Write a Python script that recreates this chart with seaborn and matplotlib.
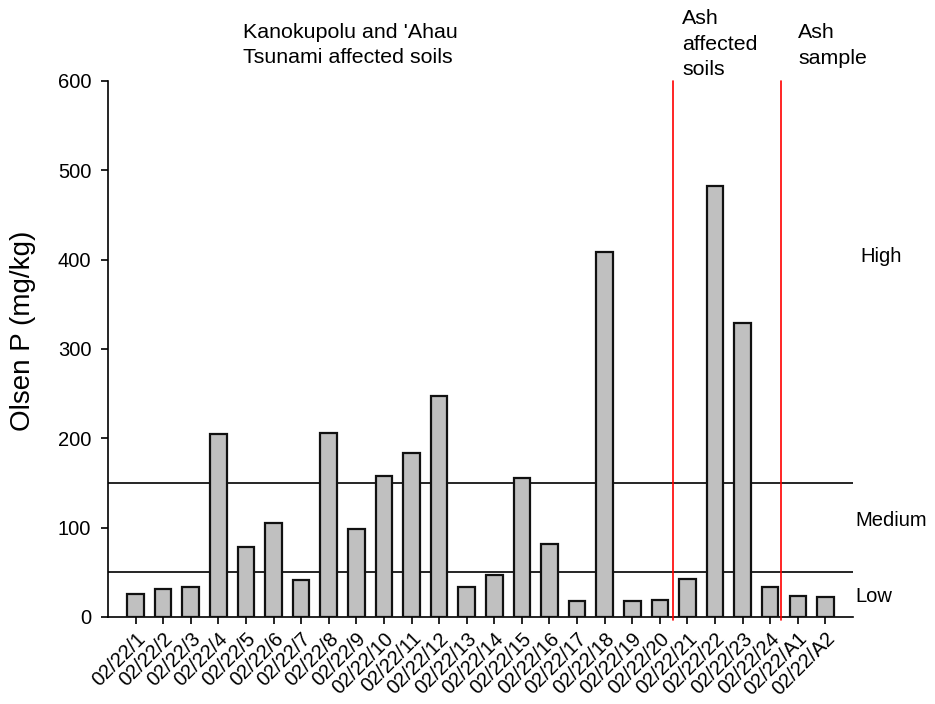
import matplotlib
matplotlib.use("Agg")
import matplotlib.pyplot as plt
import seaborn as sns
import pandas as pd

# Sample IDs and Olsen P results (mg/kg)
samples = [
    "02/22/1", "02/22/2", "02/22/3", "02/22/4", "02/22/5", "02/22/6",
    "02/22/7", "02/22/8", "02/22/9", "02/22/10", "02/22/11", "02/22/12",
    "02/22/13", "02/22/14", "02/22/15", "02/22/16", "02/22/17", "02/22/18",
    "02/22/19", "02/22/20", "02/22/21", "02/22/22", "02/22/23", "02/22/24",
    "02/22/A1", "02/22/A2",
]
olsen_p = [
    26, 31, 34, 205, 78, 105,
    41, 206, 99, 158, 183, 247,
    34, 47, 156, 82, 18, 408,
    18, 19, 43, 482, 329, 34,
    23, 22,
]

# Fertility class boundaries and group dividers
class_limits = [50, 150]
class_names = ["Low", "Medium", "High"]
group_dividers = [19.48, 23.38]

sns.set_theme(style="ticks")
plt.rcParams["font.family"] = ["Liberation Sans", "DejaVu Sans"]
plt.rcParams.update({
    "text.color": "black",
    "axes.labelcolor": "black",
    "xtick.color": "black",
    "ytick.color": "black",
})

df = pd.DataFrame({"sample": samples, "olsen_p": olsen_p})

fig = plt.figure(figsize=(9.35, 7.04), dpi=100)
ax = fig.add_axes([0.1155, 0.1236, 0.7968, 0.7614])

sns.barplot(data=df, x="sample", y="olsen_p", color="#c0c0c0", saturation=1,
            edgecolor="#111111", linewidth=1.6, width=0.6, ax=ax, zorder=3)

for lim in class_limits:
    ax.axhline(lim, color="black", linewidth=1.2, zorder=1)

for xd in group_dividers:
    ax.plot([xd, xd], [-3, 600], color="red", linewidth=1.2, zorder=4,
            clip_on=False)

ax.set_xlim(-1, 26)
ax.set_ylim(0, 600)
ax.set_yticks(range(0, 601, 100))
ax.set_xlabel("")
ax.set_ylabel("Olsen P (mg/kg)", fontsize=20)
ax.yaxis.set_label_coords(-0.096, 0.534)
ax.tick_params(axis="both", labelsize=14.5, length=5, width=1.2,
               color="black", labelcolor="black")
ax.tick_params(axis="y", pad=7)
for lbl in ax.get_xticklabels():
    lbl.set_rotation(45)
    lbl.set_ha("right")
    lbl.set_rotation_mode("anchor")

sns.despine(ax=ax)
for sp in ("left", "bottom"):
    ax.spines[sp].set_linewidth(1.2)
    ax.spines[sp].set_color("black")

# Group headings above the plot
fig.text(243 / 935, 1 - 45 / 704, "Kanokupolu and 'Ahau\nTsunami affected soils",
         fontsize=15.4, ha="left", va="center", linespacing=1.41)
fig.text(682 / 935, 1 - 44 / 704, "Ash\naffected\nsoils",
         fontsize=15.4, ha="left", va="center", linespacing=1.41)
fig.text(798 / 935, 1 - 45.5 / 704, "Ash\nsample",
         fontsize=15.4, ha="left", va="center", linespacing=1.41)

# Fertility class labels on the right
fig.text(860 / 935, 1 - 257 / 704, class_names[2], fontsize=14.5, ha="left", va="center")
fig.text(855 / 935, 1 - 521 / 704, class_names[1], fontsize=14.5, ha="left", va="center")
fig.text(855 / 935, 1 - 596 / 704, class_names[0], fontsize=14.5, ha="left", va="center")

fig.savefig("out.png", dpi=100)
